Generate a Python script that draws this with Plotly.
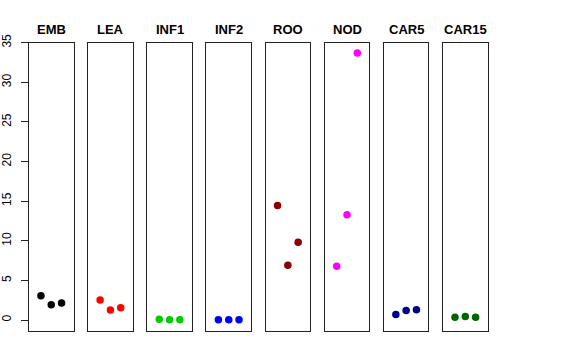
import plotly.graph_objects as go

W, H = 576, 360

tissues = ["EMB", "LEA", "INF1", "INF2", "ROO", "NOD", "CAR5", "CAR15"]
colors = ["#000000", "#FF0000", "#00CD00", "#0000FF", "#8B0000", "#FF00FF", "#00008B", "#006400"]
replicate = [1, 2, 3]
emb = [3.07, 1.93, 2.15]
lea = [2.53, 1.26, 1.56]
inf1 = [0.08, 0.02, 0.02]
inf2 = [0.02, 0.02, 0.02]
roo = [14.45, 6.9, 9.8]
nod = [6.8, 13.3, 33.7]
car5 = [0.7, 1.2, 1.28]
car15 = [0.36, 0.43, 0.36]
values = [emb, lea, inf1, inf2, roo, nod, car5, car15]
y_ticks = [0, 5, 10, 15, 20, 25, 30, 35]

fig = go.Figure()

panel_left0 = 29.0
panel_step = 59.15
panel_w = 44.5
y_bot_px, y_top_px = 330.7, 42.7

for i, (name, col, vals) in enumerate(zip(tissues, colors, values)):
    ax = "" if i == 0 else str(i + 1)
    fig.add_trace(go.Scatter(
        x=replicate, y=vals, mode="markers",
        marker=dict(color=col, size=7.5),
        xaxis="x" + ax, yaxis="y" + ax, showlegend=False, hoverinfo="y"))
    left = panel_left0 + i * panel_step
    dom = [left / W, (left + panel_w) / W]
    fig.layout["xaxis" + ax] = dict(
        domain=dom, range=[-0.16, 4.16], showticklabels=False, ticks="",
        showgrid=False, zeroline=False, showline=True, mirror=True, automargin=False,
        linecolor="#222222", linewidth=1, anchor="y" + ax, fixedrange=True)
    yax = dict(
        domain=[1 - y_bot_px / H, 1 - y_top_px / H], range=[-1.35, 35.0],
        showgrid=False, zeroline=False, showline=True, mirror=True, automargin=False,
        linecolor="#222222", linewidth=1, anchor="x" + ax)
    if i == 0:
        yax.update(tickmode="array", tickvals=y_ticks, ticktext=[str(t) for t in y_ticks],
                   ticks="outside", ticklen=7, tickcolor="#222222", tickwidth=1,
                   tickangle=-90, ticklabelstandoff=5,
                   tickfont=dict(family="Liberation Sans, Arial, sans-serif", size=12, color="black"))
    else:
        yax.update(showticklabels=False, ticks="")
    fig.layout["yaxis" + ax] = yax
    fig.add_annotation(
        x=(left + panel_w / 2) / W, y=1 - 29 / H, xref="paper", yref="paper",
        text="<b>" + name + "</b>", showarrow=False, xanchor="center", yanchor="middle",
        font=dict(family="Liberation Sans, Arial, sans-serif", size=13, color="black"))

fig.update_layout(
    width=W, height=H, margin=dict(l=0, r=0, t=0, b=0),
    paper_bgcolor="white", plot_bgcolor="white")

fig.write_html("out.html", config={"displayModeBar": False},
               post_script="document.body.style.margin='0';document.body.style.overflow='hidden';")
